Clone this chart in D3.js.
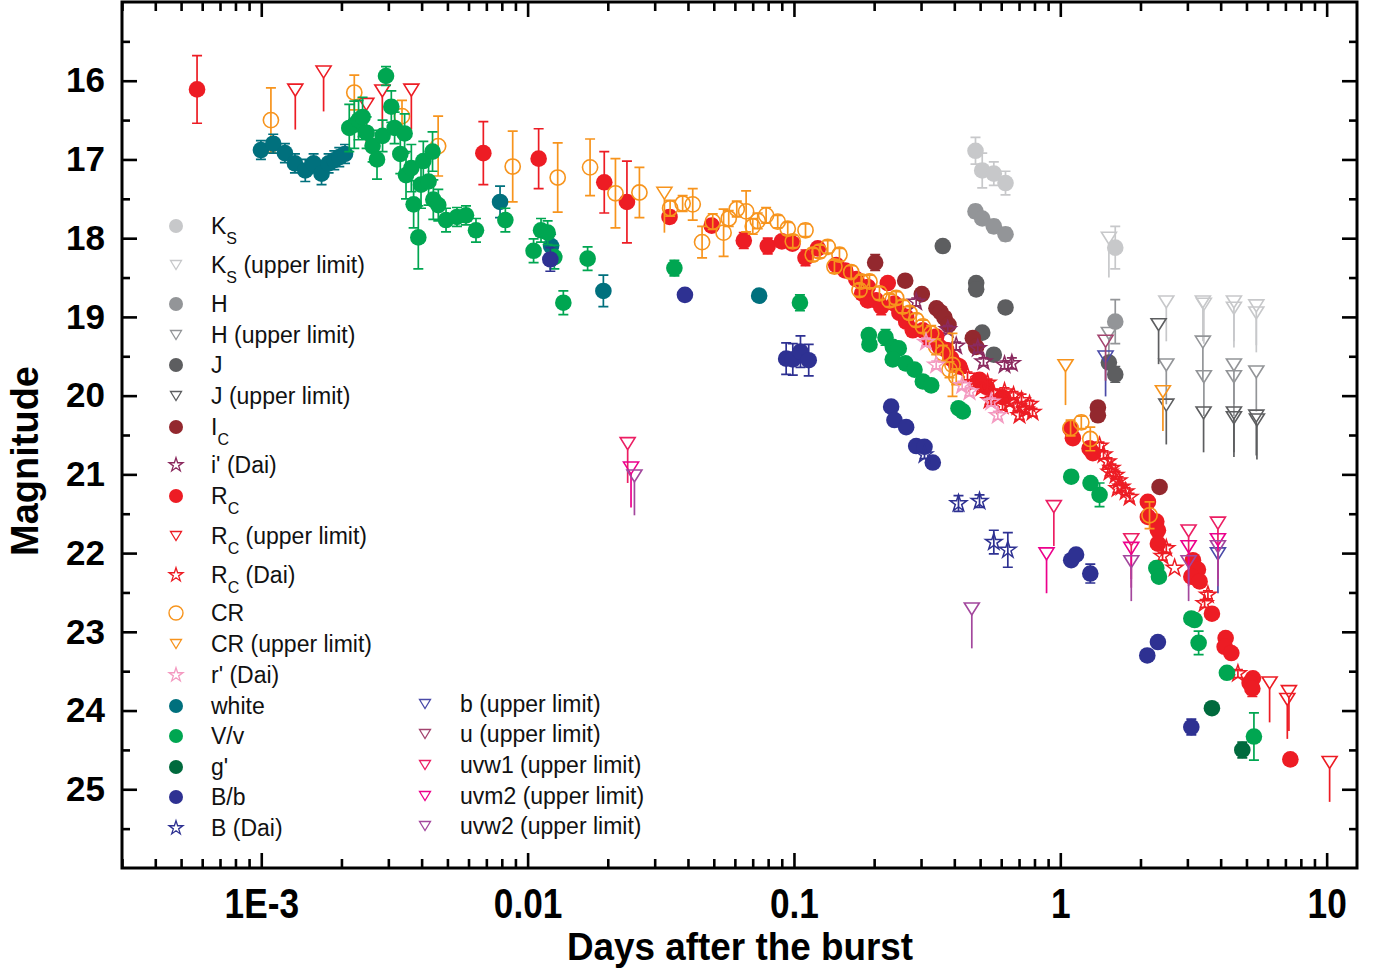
<!DOCTYPE html>
<html><head><meta charset="utf-8">
<script src="https://cdn.jsdelivr.net/npm/d3@7"></script>
<style>
body{margin:0;background:#fff;}
svg{display:block;font-family:"Liberation Sans",Arial,sans-serif;}
</style></head><body><div id="chart"></div>
<script>
// [days, magnitude, error]
var ksData = [[0.4804,16.89,0.17],[0.5092,17.14,0.22],[0.5628,17.18,0.15],[0.6227,17.30,0.15],[1.608,18.12,0.27]];
var ksUL = [[1.522,18.00],[2.500,18.81],[3.430,18.81],[3.46,18.84],[4.486,18.81],[4.486,18.89],[5.444,18.86],[5.444,18.95]];
var hData = [[0.4804,17.66,0.08],[0.5092,17.75,0.06],[0.5628,17.85,0.08],[0.6227,17.95,0.08],[1.608,19.06,0.28]];
var hUL = [[1.522,19.21],[2.500,19.61],[3.430,19.32],[3.46,19.76],[4.486,19.61],[4.486,19.76],[5.444,19.70]];
var jData = [[0.3621,18.10,0],[0.4832,18.57,0.05],[0.4832,18.65,0],[0.6227,18.88,0],[0.5092,19.20,0.05],[0.5628,19.48,0.05],[1.522,19.58,0],[1.608,19.73,0.1]];
var jUL = [[2.339,19.10],[2.500,20.12],[3.451,20.22],[4.486,20.22],[4.486,20.28],[5.444,20.26],[5.473,20.31]];
var icData = [[0.2018,18.31,0.1],[0.2616,18.54,0],[0.3020,18.71,0],[0.3428,18.89,0],[0.3550,18.94,0],[0.3675,19.01,0],[0.3804,19.10,0],[0.4694,19.27,0],[0.4832,19.38,0],[1.384,20.15,0],[1.384,20.25,0],[2.359,21.16,0]];
var iDai = [[0.2877,18.81,0.05],[0.3781,19.16,0.05],[0.4066,19.37,0.05],[0.4901,19.40,0.05],[0.5148,19.57,0.05],[0.6174,19.61,0.05],[0.6578,19.59,0.07]];
var rcData = [
  [5.74e-4,16.11,0.43],[6.82e-3,16.92,0.40],[0.0110,16.99,0.38],[0.0194,17.29,0.39],[0.0236,17.54,0.52],
  [0.0341,17.73,0.08],[0.0491,17.84,0.07],[0.0648,18.03,0.1],[0.0797,18.10,0.1],[0.0901,18.04,0.06],[0.0987,18.07,0.06],
  [0.1105,18.25,0.1],[0.1229,18.13,0.06],[0.1441,18.34,0.06],[0.1557,18.41,0.06],[0.1713,18.52,0.06],[0.1804,18.70,0.06],
  [0.1893,18.62,0.06],[0.1893,18.79,0.06],[0.2036,18.79,0.08],[0.2126,18.87,0.1],[0.2250,18.57,0.06],[0.2384,18.83,0.06],
  [0.2489,18.95,0.06],[0.2638,19.00,0.06],[0.2638,19.06,0.06],[0.2794,19.17,0.06],[0.3047,19.17,0.06],[0.3228,19.29,0.06],
  [0.3420,19.25,0.06],[0.3520,19.38,0.06],[0.3729,19.42,0.06],[0.3895,19.53,0.06],[0.4066,19.61,0.06],[0.4183,19.63,0.06],
  [0.4974,19.80,0.06],[0.5271,19.89,0.06],[0.6069,20.02,0.06],
  [1.093,20.42,0.06],[1.115,20.54,0.06],[1.288,20.67,0.08],[1.325,20.73,0.06],
  [2.132,21.35,0.05],[2.132,21.54,0.05],[2.293,21.60,0.05],[2.325,21.71,0.05],[2.325,21.88,0.05],
  [3.147,22.09,0.05],[3.286,22.21,0.05],[3.104,22.30,0.05],[3.334,22.36,0.05],[3.709,22.77,0.05],
  [4.176,23.08,0.06],[4.140,23.19,0.06],[4.386,23.27,0.06],[5.287,23.59,0.06],[5.138,23.65,0.06],[5.260,23.72,0.1],
  [7.307,24.62,0]];
var rcUL = [[1.342e-3,16.12],[1.714e-3,15.89],[2.48e-3,16.30],[2.848e-3,16.13],[3.66e-3,16.12],[6.107,23.65],[7.217,23.76],[7.117,23.86],[10.26,24.66]];
var rcDai = [
  [0.4483,19.75,0.05],[0.4763,19.84,0.05],[0.5061,19.90,0.05],[0.5330,19.84,0.05],[0.5617,19.97,0.05],[0.5914,20.03,0.05],
  [0.6174,19.95,0.05],[0.6448,20.08,0.05],[0.6675,20.00,0.05],[0.6910,20.14,0.05],[0.7152,20.06,0.08],[0.7404,20.18,0.05],
  [0.7664,20.11,0.05],[0.7866,20.21,0.05],[0.6069,20.13,0.05],[0.5424,20.06,0.05],[0.7029,20.25,0.05],
  [1.404,20.64,0.05],[1.453,20.75,0.05],[1.505,20.84,0.05],[1.557,20.92,0.05],[1.612,21.01,0.05],[1.655,21.08,0.05],
  [1.698,21.16,0.05],[1.759,21.22,0.05],[1.820,21.29,0.05],[1.531,20.97,0.05],[1.641,21.18,0.05],
  [2.500,21.94,0.05],[2.421,22.04,0.05],[2.686,22.19,0],[3.583,22.53,0.05],[3.482,22.64,0.05],[4.643,23.53,0.05]];
var crData = [
  [1.087e-3,16.50,0.41],[2.235e-3,16.15,0.22],[3.376e-3,16.45,0.2],[4.614e-3,16.83,0.38],[8.79e-3,17.09,0.45],
  [0.01297,17.23,0.44],[0.01716,17.10,0.36],[0.02137,17.43,0.44],[0.02629,17.42,0.32],[0.03428,17.62,0.1],
  [0.0382,17.56,0.1],[0.04168,17.57,0.2],[0.04519,18.05,0.2],[0.04955,17.79,0.1],[0.05443,17.93,0.3],
  [0.05689,17.75,0.1],[0.0610,17.63,0.1],[0.06613,17.66,0.26],[0.07004,17.85,0.1],[0.07311,17.78,0.1],
  [0.07861,17.71,0.1],[0.0869,17.79,0.08],[0.09477,17.88,0.08],[0.0990,18.04,0.08],[0.1105,17.90,0.08],
  [0.1176,18.21,0.08],[0.1247,18.17,0.08],[0.1339,18.11,0.08],[0.1419,18.36,0.08],[0.1482,18.21,0.08],
  [0.1640,18.43,0.08],[0.1762,18.66,0.08],[0.1788,18.55,0.08],[0.1921,18.55,0.08],[0.2095,18.70,0.08],
  [0.2284,18.79,0.08],[0.2420,18.76,0.08],[0.2563,18.87,0.08],[0.2716,18.95,0.08],[0.2877,19.04,0.08],
  [0.3047,19.12,0.08],[0.3276,19.21,0.1],[0.3420,19.38,0.1],[0.3621,19.46,0.1],[0.3837,19.67,0.1],
  [0.3937,19.61,0.4],[0.4066,19.76,0.1],
  [1.093,20.41,0.1],[1.199,20.34,0.08],[1.296,20.55,0.15],[2.163,21.52,0.17]];
var crUL = [[0.03263,17.43],[1.046,19.62],[2.428,19.95]];
var rDai = [[0.3132,19.32,0.05],[0.3420,19.61,0.05],[0.4282,19.87,0.05],[0.4561,19.95,0.05],[0.5503,20.08,0.05],[0.5826,20.25,0.05]];
var whiteData = [[9.97e-4,16.88,0.12],[1.109e-3,16.80,0.12],[1.227e-3,16.92,0.12],[1.338e-3,17.05,0.12],[1.463e-3,17.14,0.14],
  [1.572e-3,17.05,0.12],[1.684e-3,17.18,0.14],[1.79e-3,17.05,0.12],[1.88e-3,17.01,0.12],[1.963e-3,16.97,0.12],[2.063e-3,16.93,0.12],
  [7.88e-3,17.54,0.2],[0.01225,18.10,0.15],[0.01925,18.67,0.2],[0.07402,18.73,0.05]];
var vData = [
  [2.14e-3,16.60,0.3],[2.235e-3,16.56,0.3],[2.319e-3,16.50,0.25],[2.401e-3,16.46,0.25],[2.486e-3,16.66,0.2],[2.618e-3,16.83,0.2],
  [2.72e-3,17.00,0.25],[2.854e-3,16.70,0.2],[2.94e-3,15.94,0.12],[3.078e-3,16.33,0.2],[3.167e-3,16.60,0.2],[3.327e-3,16.93,0.25],
  [3.453e-3,16.67,0.25],[3.495e-3,17.20,0.3],[3.66e-3,17.11,0.3],[3.733e-3,17.57,0.3],[3.887e-3,17.99,0.4],[3.979e-3,17.32,0.3],
  [4.059e-3,17.02,0.25],[4.248e-3,17.28,0.3],[4.396e-3,16.90,0.25],[4.426e-3,17.51,0.25],[4.62e-3,17.58,0.2],[4.94e-3,17.77,0.15],
  [5.43e-3,17.73,0.12],[5.87e-3,17.71,0.12],[6.40e-3,17.90,0.15],[8.25e-3,17.77,0.15],[0.01053,18.16,0.15],[0.01123,17.90,0.15],
  [0.01189,17.93,0.15],[0.0126,18.24,0.15],[0.01362,18.82,0.15],[0.0168,18.26,0.15],[0.03557,18.38,0.1],[0.1053,18.82,0.1],
  [0.1910,19.23,0.05],[0.1921,19.35,0.05],[0.2207,19.26,0.1],[0.2350,19.38,0.05],[0.2474,19.40,0.05],[0.2350,19.54,0.05],
  [0.2623,19.59,0.05],[0.2835,19.67,0.05],[0.3047,19.82,0.05],[0.3276,19.87,0.05],[0.4147,20.16,0.05],[0.4305,20.20,0.05],
  [1.099,21.03,0.05],[1.299,21.11,0.05],[1.404,21.26,0.15],[2.293,22.19,0.05],[2.346,22.30,0.05],[3.104,22.83,0.05],
  [3.193,22.85,0.05],[3.306,23.14,0.15],[4.222,23.52,0.07],[5.333,24.33,0.3]];
var gData = [[3.709,23.97,0],[4.823,24.50,0.1]];
var bData = [[0.01217,18.27,0.15],[0.03896,18.72,0.07],[0.09348,19.53,0.2],[0.0990,19.54,0.2],[0.1058,19.44,0.2],[0.1136,19.55,0.2],
  [0.2317,20.14,0],[0.2384,20.31,0],[0.2638,20.40,0],[0.2877,20.64,0],[0.3091,20.65,0],[0.3321,20.85,0],
  [1.099,22.09,0.05],[1.146,22.02,0],[1.296,22.26,0.12],[2.121,23.30,0],[2.325,23.13,0],[3.104,24.21,0.1]];
var bDai = [[0.3091,20.75,0.05],[0.4147,21.37,0.1],[0.4974,21.34,0.08],[0.5628,21.86,0.15],[0.6353,21.96,0.22]];
var bUL = [[1.479,19.51],[3.907,22.01]];
var uUL = [[1.479,19.31]];
var uvw1UL = [[0.02375,20.61],[0.9456,21.41],[1.847,21.83],[3.032,21.72],[3.907,21.62]];
var uvm2UL = [[0.02445,20.92],[0.8879,22.01],[1.847,21.94],[3.032,21.92],[3.907,21.83]];
var uvw2UL = [[0.02518,21.02],[0.4653,22.71],[1.847,22.11],[3.032,22.11],[3.907,21.92]];

var xTicks = [1e-3, 0.01, 0.1, 1, 10];
var xTickLabels = ["1E-3", "0.01", "0.1", "1", "10"];
var yTicks = [16, 17, 18, 19, 20, 21, 22, 23, 24, 25];

var series = [
  {label: [["K"],["S",1]], data: ksData, kind: "dot", color: "#c7c8ca", col: 0},
  {label: [["K"],["S",1],[" (upper limit)"]], data: ksUL, kind: "ul", color: "#c7c8ca", col: 0},
  {label: [["H"]], data: hData, kind: "dot", color: "#939598", col: 0},
  {label: [["H (upper limit)"]], data: hUL, kind: "ul", color: "#939598", col: 0},
  {label: [["J"]], data: jData, kind: "dot", color: "#5d5e60", col: 0},
  {label: [["J (upper limit)"]], data: jUL, kind: "ul", color: "#5d5e60", col: 0},
  {label: [["I"],["C",1]], data: icData, kind: "dot", color: "#93282e", col: 0},
  {label: [["i' (Dai)"]], data: iDai, kind: "star", color: "#8b2a5f", col: 0},
  {label: [["R"],["C",1]], data: rcData, kind: "dot", color: "#ed1c24", col: 0},
  {label: [["R"],["C",1],[" (upper limit)"]], data: rcUL, kind: "ul", color: "#ed1c24", col: 0},
  {label: [["R"],["C",1],[" (Dai)"]], data: rcDai, kind: "star", color: "#ed1c24", col: 0},
  {label: [["CR"]], data: crData, kind: "open", color: "#f7941d", col: 0},
  {label: [["CR (upper limit)"]], data: crUL, kind: "ul", color: "#f7941d", col: 0},
  {label: [["r' (Dai)"]], data: rDai, kind: "star", color: "#f49ac1", col: 0},
  {label: [["white"]], data: whiteData, kind: "dot", color: "#00707d", col: 0},
  {label: [["V/v"]], data: vData, kind: "dot", color: "#00a651", col: 0},
  {label: [["g'"]], data: gData, kind: "dot", color: "#006a3d", col: 0},
  {label: [["B/b"]], data: bData, kind: "dot", color: "#2e3192", col: 0},
  {label: [["B (Dai)"]], data: bDai, kind: "star", color: "#2e3192", col: 0},
  {label: [["b (upper limit)"]], data: bUL, kind: "ul", color: "#4a4aa8", col: 1},
  {label: [["u (upper limit)"]], data: uUL, kind: "ul", color: "#a3446f", col: 1},
  {label: [["uvw1 (upper limit)"]], data: uvw1UL, kind: "ul", color: "#ec1e63", col: 1},
  {label: [["uvm2 (upper limit)"]], data: uvm2UL, kind: "ul", color: "#ec008c", col: 1},
  {label: [["uvw2 (upper limit)"]], data: uvw2UL, kind: "ul", color: "#a3479d", col: 1}
];

var W = 1386, H = 969;
var pLeft = 122, pRight = 1357, pTop = 2, pBottom = 868;

var svg = d3.select("#chart").append("svg").attr("width", W).attr("height", H);

var x = d3.scaleLog().domain([3e-4, 13]).range([pLeft, pRight]);
var y = d3.scaleLinear().domain([15, 26]).range([pTop, pBottom]);

// minor tick values
var xMinor = [];
for (var p = -4; p <= 1; p++) {
  for (var k = 2; k <= 9; k++) {
    var v = k * Math.pow(10, p);
    if (v > 3e-4 && v < 13) xMinor.push(v);
  }
}
var yMinor = d3.range(15.5, 26, 1);

function styleAxis(g) {
  g.select(".domain").remove();
  g.selectAll(".tick line").attr("stroke", "#000").attr("stroke-width", 2.6);
}

svg.append("g").attr("transform", "translate(0," + pBottom + ")")
  .call(d3.axisBottom(x).tickValues(xTicks).tickSize(-15).tickPadding(20).tickFormat(function(d, i) { return xTickLabels[i]; }))
  .call(styleAxis)
  .call(function(g) {
    g.selectAll("text").attr("fill", "#000").style("font-size", "42px").style("font-weight", "bold")
      .attr("transform", "scale(0.84,1)");
  });
svg.append("g").attr("transform", "translate(0," + pBottom + ")")
  .call(d3.axisBottom(x).tickValues(xMinor).tickSize(-9).tickFormat(""))
  .call(styleAxis);
svg.append("g").attr("transform", "translate(0," + pTop + ")")
  .call(d3.axisTop(x).tickValues(xTicks).tickSize(-15).tickFormat(""))
  .call(styleAxis);
svg.append("g").attr("transform", "translate(0," + pTop + ")")
  .call(d3.axisTop(x).tickValues(xMinor).tickSize(-9).tickFormat(""))
  .call(styleAxis);

svg.append("g").attr("transform", "translate(" + pLeft + ",0)")
  .call(d3.axisLeft(y).tickValues(yTicks).tickSize(-15).tickPadding(17))
  .call(styleAxis)
  .call(function(g) {
    g.selectAll("text").attr("fill", "#000").style("font-size", "35px").style("font-weight", "bold");
  });
svg.append("g").attr("transform", "translate(" + pLeft + ",0)")
  .call(d3.axisLeft(y).tickValues(yMinor).tickSize(-8).tickFormat(""))
  .call(styleAxis);
svg.append("g").attr("transform", "translate(" + pRight + ",0)")
  .call(d3.axisRight(y).tickValues(yTicks).tickSize(-15).tickFormat(""))
  .call(styleAxis);
svg.append("g").attr("transform", "translate(" + pRight + ",0)")
  .call(d3.axisRight(y).tickValues(yMinor).tickSize(-8).tickFormat(""))
  .call(styleAxis);

svg.append("rect").attr("x", pLeft).attr("y", pTop).attr("width", pRight - pLeft).attr("height", pBottom - pTop)
  .attr("fill", "none").attr("stroke", "#000").attr("stroke-width", 3);

// axis titles
svg.append("text").attr("x", 740).attr("y", 960).attr("text-anchor", "middle")
  .style("font-size", "38px").style("font-weight", "bold")
  .attr("textLength", 346).attr("lengthAdjust", "spacingAndGlyphs")
  .text("Days after the burst");
svg.append("text").attr("transform", "translate(38,461) rotate(-90)").attr("text-anchor", "middle")
  .style("font-size", "38px").style("font-weight", "bold").text("Magnitude");

// markers
var star = d3.symbol().type(d3.symbolStar);
function triPath(w, h) {
  return "M" + (-w) + "," + (-h) + "L" + w + "," + (-h) + "L0," + h + "Z";
}
var ulTail = 0.5; // mag length of the upper-limit arrow

var plot = svg.append("g");
series.forEach(function(s) {
  var g = plot.append("g");
  if (s.kind === "ul") {
    s.data.forEach(function(d) {
      var cx = x(d[0]), cy = y(d[1]);
      g.append("line").attr("x1", cx).attr("x2", cx).attr("y1", cy + 6).attr("y2", y(d[1] + ulTail))
        .attr("stroke", s.color).attr("stroke-width", 1.7);
      g.append("path").attr("d", triPath(7.5, 6)).attr("transform", "translate(" + cx + "," + cy + ")")
        .attr("fill", "none").attr("stroke", s.color).attr("stroke-width", 1.6);
    });
    return;
  }
  s.data.forEach(function(d) {
    if (!d[2]) return;
    var cx = x(d[0]), y1 = y(d[1] - d[2]), y2 = y(d[1] + d[2]);
    g.append("path").attr("d", "M" + cx + "," + y1 + "V" + y2 + "M" + (cx - 5) + "," + y1 + "H" + (cx + 5) + "M" + (cx - 5) + "," + y2 + "H" + (cx + 5))
      .attr("fill", "none").attr("stroke", s.color).attr("stroke-width", 1.7);
  });
  s.data.forEach(function(d) {
    var cx = x(d[0]), cy = y(d[1]);
    if (s.kind === "dot") {
      g.append("circle").attr("cx", cx).attr("cy", cy).attr("r", 8.3).attr("fill", s.color);
    } else if (s.kind === "open") {
      g.append("circle").attr("cx", cx).attr("cy", cy).attr("r", 7.6).attr("fill", "none")
        .attr("stroke", s.color).attr("stroke-width", 1.6);
    } else {
      g.append("path").attr("d", star.size(85)()).attr("transform", "translate(" + cx + "," + cy + ")")
        .attr("fill", "none").attr("stroke", s.color).attr("stroke-width", 1.5);
    }
  });
});

// legend
var rows0 = [226, 265, 304, 335, 365, 396, 427, 465, 496, 536, 575, 613, 644, 675, 706, 736, 767, 797, 828];
var rows1 = [704, 734, 765, 796, 826];
var i0 = 0, i1 = 0;
var leg = svg.append("g");
series.forEach(function(s) {
  var sy = s.col === 0 ? rows0[i0++] : rows1[i1++];
  var sx = s.col === 0 ? 176 : 425;
  var g = leg.append("g").attr("transform", "translate(" + sx + "," + sy + ")");
  if (s.kind === "dot") g.append("circle").attr("r", 7).attr("fill", s.color);
  else if (s.kind === "open") g.append("circle").attr("r", 7).attr("fill", "none").attr("stroke", s.color).attr("stroke-width", 1.4);
  else if (s.kind === "ul") g.append("path").attr("d", triPath(5.5, 4.5)).attr("fill", "none").attr("stroke", s.color).attr("stroke-width", 1.3);
  else g.append("path").attr("d", star.size(60)()).attr("fill", "none").attr("stroke", s.color).attr("stroke-width", 1.3);
  var t = g.append("text").attr("x", 35).attr("y", 8).style("font-size", "23px").attr("fill", "#111");
  s.label.forEach(function(part) {
    if (part[1]) t.append("tspan").attr("dy", 10).style("font-size", "16px").text(part[0]);
    else {
      var ts = t.append("tspan").text(part[0]);
      if (t.selectAll("tspan").size() > 1) ts.attr("dy", -10);
    }
  });
});
</script>
</body></html>
